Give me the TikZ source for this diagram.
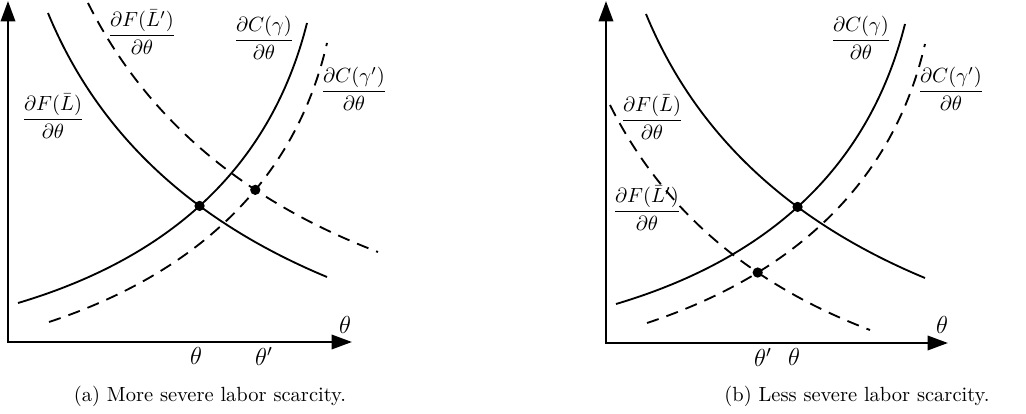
\documentclass[tikz,border=0pt]{standalone}
\usepackage{amsmath,amssymb}
\usepackage{tikz}
\usetikzlibrary{arrows.meta,intersections}

\begin{document}
\begin{tikzpicture}[x={(0.4878pt,0pt)},y={(0pt,-0.4878pt)},
  axes/.style={line width=1.3pt,line join=miter,
    {Triangle[length=10pt,width=7pt]}-{Triangle[length=10pt,width=7pt]}},
  curve/.style={line width=0.9pt},
  dcurve/.style={curve,dash pattern=on 6pt off 4pt},
  dot/.style={circle,fill,inner sep=0pt,minimum size=5pt},
  lbl/.style={inner sep=0pt},
  tick/.style={inner sep=0pt,font=\large}]
\useasboundingbox (0,0) rectangle (1026,414);
% (a) more severe labor scarcity
\begin{scope}
\draw[axes] (8,1) -- (8,342) -- (352,342);
% marginal product and marginal cost curves
\draw[curve,name path=FL] (48,13) .. controls (97,132) and (190,220) .. (327,277);
\draw[curve,name path=CG] (18,303) .. controls (176,256) and (272,162) .. (307,23);
\draw[dcurve,name path=FLp] (88,3) .. controls (145,117) and (242,200) .. (378,252);
\draw[dcurve,name path=CGp] (49,322) .. controls (200,272) and (296,178) .. (327,43);
% equilibria
\path[name intersections={of=FL and CG,by=eqA}];
\path[name intersections={of=FLp and CGp,by=eqAp}];
\node[dot] (dotA) at (eqA) {};
\node[dot] (dotAp) at (eqAp) {};
% labels
\node[lbl] (lblFLp) at (142,32) {$\dfrac{\partial F(\bar{L}')}{\partial\theta}$};
\node[lbl] (lblCG) at (264,38) {$\dfrac{\partial C(\gamma)}{\partial\theta}$};
\node[lbl] (lblCGp) at (354,89) {$\dfrac{\partial C(\gamma')}{\partial\theta}$};
\node[lbl] (lblFL) at (53,116) {$\dfrac{\partial F(\bar{L})}{\partial\theta}$};
\node[tick] (axA) at (345,325) {$\theta$};
\node[tick] (thA) at (196,356) {$\theta$};
\node[tick] (thAp) at (264,356) {$\theta'$};
\node[anchor=base] (capA) at (210,402) {(a) More severe labor scarcity.};
\end{scope}
% (b) less severe labor scarcity
\begin{scope}[shift={(598,1)}]
\draw[axes] (8,0) -- (8,342) -- (350,342);
\draw[curve,name path=FLb] (48,13) .. controls (97,132) and (190,220) .. (327,277);
\draw[curve,name path=CGb] (18,303) .. controls (176,256) and (272,162) .. (307,23);
\draw[dcurve,name path=FLbp] (12,104) .. controls (64,208) and (151,283) .. (272,329);
\draw[dcurve,name path=CGbp] (49,322) .. controls (200,272) and (296,178) .. (327,43);
\path[name intersections={of=FLb and CGb,by=eqB}];
\path[name intersections={of=FLbp and CGbp,by=eqBp}];
\node[dot] (dotB) at (eqB) {};
\node[dot] (dotBp) at (eqBp) {};
\node[lbl] (lblCGb) at (263,37) {$\dfrac{\partial C(\gamma)}{\partial\theta}$};
\node[lbl] (lblCGbp) at (353,88) {$\dfrac{\partial C(\gamma')}{\partial\theta}$};
\node[lbl] (lblFLb) at (54,116) {$\dfrac{\partial F(\bar{L})}{\partial\theta}$};
\node[lbl] (lblFLbp) at (49,207) {$\dfrac{\partial F(\bar{L}')}{\partial\theta}$};
\node[tick] (axB) at (344,324) {$\theta$};
\node[tick] (thBp) at (165,356) {$\theta'$};
\node[tick] (thB) at (196,356) {$\theta$};
\node[anchor=base] (capB) at (259,401) {(b) Less severe labor scarcity.};
\end{scope}
\end{tikzpicture}
\end{document}
